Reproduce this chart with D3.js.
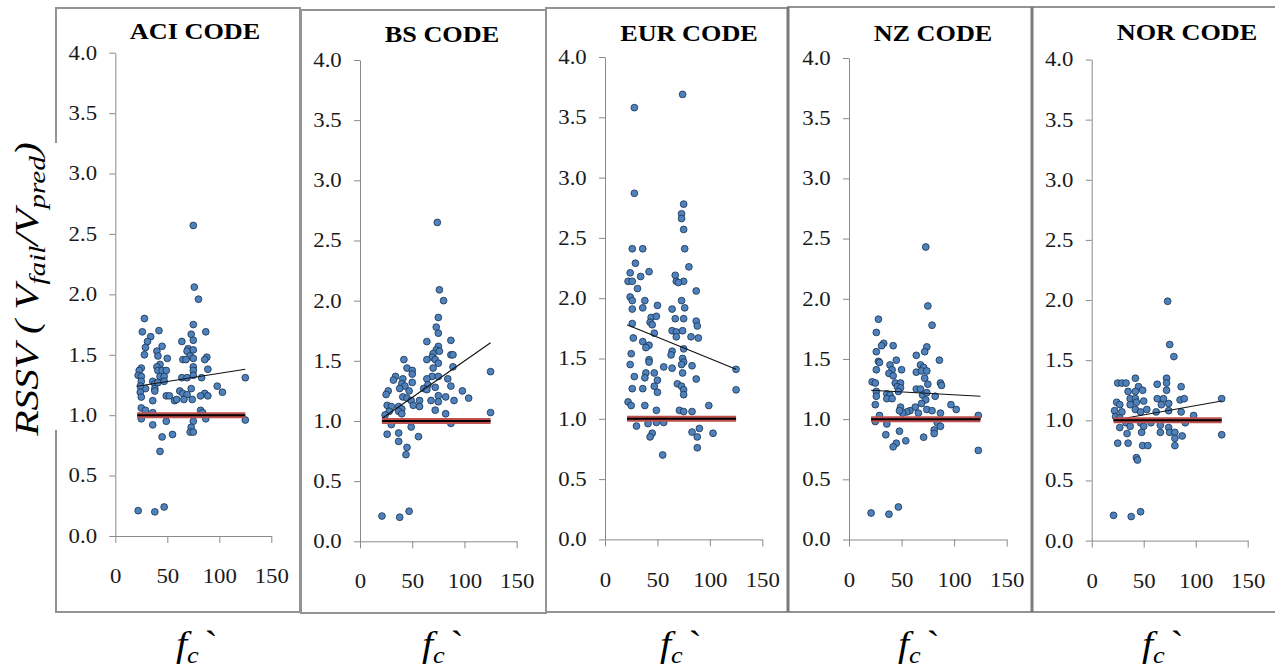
<!DOCTYPE html>
<html>
<head>
<meta charset="utf-8">
<script src="https://cdn.jsdelivr.net/npm/d3@7"></script>
<style>
  body { margin: 0; background: #fff; }
  text { font-family: "Liberation Serif", "Times New Roman", serif; }
</style>
</head>
<body>
<svg id="chart" width="1275" height="668"></svg>
<script>
"use strict";

// panel titles
const codes = ["ACI CODE", "BS CODE", "EUR CODE", "NZ CODE", "NOR CODE"];
const fcTicks = [0, 50, 100, 150];
const rssvTicks = [0, 0.5, 1.0, 1.5, 2.0, 2.5, 3.0, 3.5, 4.0];

// [fc', RSSV]
const aciPoints = [
  [75, 2.57], [76, 2.06], [80, 1.96], [28, 1.80], [75, 1.75], [26, 1.69], [42, 1.70], [87, 1.69],
  [73, 1.67], [34, 1.65], [31, 1.61], [75, 1.62], [64, 1.61], [45, 1.57], [29, 1.56], [70, 1.55],
  [40, 1.53], [69, 1.53], [75, 1.54], [28, 1.50], [41, 1.49], [72, 1.49], [50, 1.47], [65, 1.46],
  [68, 1.46], [75, 1.47], [88, 1.48], [86, 1.46], [25, 1.39], [43, 1.42], [40, 1.40], [75, 1.40],
  [23, 1.37], [41, 1.37], [45, 1.37], [49, 1.37], [75, 1.37], [89, 1.38], [22, 1.33], [25, 1.32],
  [43, 1.32], [47, 1.32], [75, 1.33], [64, 1.31], [69, 1.31], [83, 1.31], [125, 1.31], [25, 1.28],
  [36, 1.28], [38, 1.26], [41, 1.27], [47, 1.28], [38, 1.22], [29, 1.22], [24, 1.24], [24, 1.19],
  [25, 1.15], [38, 1.20], [62, 1.20], [73, 1.22], [65, 1.18], [98, 1.24], [86, 1.18], [82, 1.16],
  [89, 1.16], [103, 1.19], [69, 1.17], [49, 1.16], [52, 1.16], [57, 1.12], [59, 1.13], [66, 1.13],
  [74, 1.13], [36, 1.12], [25, 1.06], [29, 1.04], [36, 1.02], [82, 1.04], [84, 1.02], [25, 0.97],
  [49, 0.95], [36, 0.92], [75, 0.95], [73, 0.90], [72, 0.86], [75, 0.86], [87, 0.97], [125, 0.96],
  [45, 0.82], [55, 0.84], [43, 0.70], [22, 0.21], [38, 0.20], [47, 0.24]
];
const bsPoints = [
  [74, 2.65], [76, 2.09], [80, 2.00], [75, 1.86], [73, 1.78], [75, 1.73], [87, 1.67], [64, 1.66],
  [75, 1.62], [73, 1.59], [70, 1.56], [76, 1.58], [69, 1.53], [87, 1.55], [89, 1.55], [42, 1.51],
  [64, 1.51], [72, 1.51], [75, 1.48], [45, 1.44], [50, 1.42], [70, 1.44], [89, 1.45], [50, 1.39],
  [34, 1.37], [69, 1.37], [75, 1.37], [84, 1.35], [32, 1.34], [41, 1.35], [64, 1.35], [50, 1.32],
  [40, 1.31], [43, 1.29], [38, 1.27], [65, 1.30], [72, 1.28], [87, 1.29], [61, 1.27], [47, 1.25],
  [64, 1.26], [27, 1.25], [25, 1.22], [98, 1.25], [104, 1.19], [82, 1.20], [90, 1.17], [68, 1.17],
  [75, 1.21], [75, 1.16], [41, 1.20], [45, 1.19], [49, 1.17], [57, 1.17], [26, 1.13], [30, 1.12],
  [37, 1.12], [51, 1.13], [57, 1.12], [40, 1.10], [28, 1.08], [37, 1.08], [72, 1.09], [82, 1.06],
  [24, 1.05], [40, 1.06], [125, 1.41], [125, 1.07], [87, 0.98], [30, 0.97], [49, 0.95], [26, 0.89],
  [37, 0.90], [56, 0.87], [37, 0.83], [45, 0.78], [44, 0.72], [21, 0.21], [38, 0.20], [47, 0.25]
];
const eurPoints = [
  [74, 3.69], [28, 3.58], [28, 2.87], [75, 2.78], [73, 2.70], [73, 2.66], [75, 2.57], [26, 2.41],
  [36, 2.41], [76, 2.41], [29, 2.29], [24, 2.21], [42, 2.22], [80, 2.26], [22, 2.14], [26, 2.14],
  [34, 2.18], [67, 2.19], [68, 2.14], [75, 2.14], [70, 2.13], [31, 2.08], [87, 2.06], [24, 2.01],
  [26, 1.98], [38, 1.98], [73, 1.98], [26, 1.91], [36, 1.92], [50, 1.94], [64, 1.91], [76, 1.92],
  [44, 1.84], [49, 1.85], [43, 1.80], [45, 1.78], [67, 1.83], [75, 1.83], [87, 1.81], [88, 1.77],
  [26, 1.79], [47, 1.71], [27, 1.67], [36, 1.64], [64, 1.73], [68, 1.72], [74, 1.73], [82, 1.68],
  [89, 1.67], [68, 1.68], [42, 1.61], [39, 1.59], [75, 1.58], [64, 1.56], [63, 1.53], [25, 1.54],
  [24, 1.45], [42, 1.49], [42, 1.47], [74, 1.50], [75, 1.47], [83, 1.44], [56, 1.43], [64, 1.42],
  [39, 1.38], [47, 1.38], [73, 1.45], [74, 1.38], [28, 1.35], [38, 1.34], [50, 1.32], [87, 1.33],
  [69, 1.29], [73, 1.27], [26, 1.25], [36, 1.25], [47, 1.27], [50, 1.22], [75, 1.24], [75, 1.20],
  [22, 1.14], [25, 1.11], [38, 1.11], [99, 1.11], [49, 1.07], [71, 1.07], [75, 1.06], [83, 1.06],
  [30, 0.94], [41, 0.96], [49, 0.97], [56, 0.97], [45, 0.88], [43, 0.85], [83, 0.89], [90, 0.92],
  [88, 0.85], [103, 0.88], [88, 0.76], [55, 0.70], [125, 1.41], [125, 1.24]
];
const nzPoints = [
  [73, 2.43], [75, 1.94], [79, 1.78], [28, 1.83], [26, 1.72], [33, 1.63], [31, 1.61], [42, 1.61],
  [74, 1.60], [26, 1.56], [72, 1.56], [64, 1.53], [86, 1.49], [45, 1.49], [28, 1.48], [29, 1.47],
  [68, 1.45], [71, 1.43], [39, 1.45], [26, 1.41], [41, 1.41], [50, 1.41], [64, 1.39], [69, 1.40],
  [74, 1.40], [38, 1.38], [42, 1.36], [72, 1.34], [75, 1.29], [87, 1.30], [88, 1.28], [22, 1.31],
  [25, 1.30], [44, 1.30], [49, 1.30], [46, 1.27], [49, 1.26], [64, 1.25], [68, 1.25], [26, 1.23],
  [36, 1.21], [39, 1.20], [47, 1.23], [70, 1.20], [74, 1.22], [26, 1.19], [82, 1.19], [25, 1.12],
  [36, 1.17], [41, 1.17], [73, 1.16], [69, 1.13], [97, 1.12], [102, 1.08], [63, 1.10], [58, 1.07],
  [55, 1.06], [49, 1.10], [66, 1.05], [51, 1.05], [48, 1.07], [74, 1.08], [79, 1.07], [29, 1.03],
  [87, 1.05], [123, 1.03], [25, 0.98], [36, 0.96], [84, 0.97], [87, 0.94], [81, 0.91], [81, 0.88],
  [35, 0.87], [48, 0.90], [54, 0.82], [71, 0.85], [45, 0.80], [42, 0.77], [123, 0.74], [21, 0.22],
  [38, 0.21], [47, 0.27]
];
const norPoints = [
  [73, 1.99], [75, 1.63], [79, 1.53], [42, 1.35], [25, 1.31], [29, 1.31], [33, 1.31], [63, 1.30],
  [72, 1.35], [72, 1.31], [86, 1.28], [45, 1.28], [35, 1.24], [42, 1.24], [49, 1.25], [72, 1.25],
  [37, 1.18], [42, 1.18], [50, 1.16], [63, 1.18], [69, 1.18], [85, 1.17], [89, 1.18], [125, 1.18],
  [24, 1.15], [27, 1.13], [37, 1.13], [43, 1.15], [67, 1.13], [74, 1.14], [22, 1.08], [29, 1.07],
  [42, 1.09], [47, 1.07], [53, 1.09], [62, 1.07], [74, 1.08], [86, 1.07], [98, 1.04], [23, 1.03],
  [27, 1.02], [33, 0.98], [47, 0.98], [57, 0.98], [66, 0.96], [90, 0.98], [27, 0.94], [37, 0.95],
  [74, 0.94], [50, 0.95], [66, 0.90], [75, 0.90], [80, 0.90], [87, 0.87], [125, 0.88], [34, 0.89],
  [48, 0.90], [25, 0.81], [35, 0.81], [49, 0.79], [54, 0.79], [80, 0.85], [80, 0.79], [43, 0.69],
  [44, 0.67], [21, 0.21], [38, 0.20], [47, 0.24]
];

// linear trend line ends per panel, [fc', RSSV]
const aciTrend = [[21, 1.24], [125, 1.38]];
const bsTrend = [[21, 1.02], [125, 1.65]];
const eurTrend = [[21, 1.78], [125, 1.41]];
const nzTrend = [[21, 1.24], [125, 1.19]];
const norTrend = [[21, 1.00], [125, 1.16]];
const unityLine = [[21, 1.0], [125, 1.0]];

const allPoints = [aciPoints, bsPoints, eurPoints, nzPoints, norPoints];
const allTrends = [aciTrend, bsTrend, eurTrend, nzTrend, norTrend];

// where each panel sits on the page
const layout = [
  { box: [56, 8, 300, 612], x: [115.3, 271.3], y: [536, 52.7], title: [195, 39], xlab: 176, bw: 2 },
  { box: [301, 10, 546, 613], x: [360, 516.7], y: [541.3, 60], title: [442, 42], xlab: 422, bw: 2 },
  { box: [546, 8, 788, 612], x: [605, 762.3], y: [539.4, 57], title: [689, 41], xlab: 660, bw: 2 },
  { box: [788, 7, 1032, 612], x: [849, 1006.7], y: [539.5, 58], title: [933, 41], xlab: 898, bw: 3 },
  { box: [1032, 7, 1276, 612], x: [1091.7, 1247.7], y: [540.6, 59.5], title: [1187, 40], xlab: 1142, bw: 3 }
];

const svg = d3.select("#chart");
const stretch = 1.14; // the source picture is a bit wider than tall

function drawPanel(i) {
  const L = layout[i];
  const g = svg.append("g");

  g.append("rect")
    .attr("x", L.box[0]).attr("y", L.box[1])
    .attr("width", L.box[2] - L.box[0]).attr("height", L.box[3] - L.box[1])
    .attr("fill", "none").attr("stroke", "#939393").attr("stroke-width", 2);
  if (L.bw > 2) {
    g.append("line")
      .attr("x1", L.box[0]).attr("x2", L.box[0])
      .attr("y1", L.box[1]).attr("y2", L.box[3])
      .attr("stroke", "#7a7a7a").attr("stroke-width", L.bw);
  }

  const x = d3.scaleLinear().domain([0, 150]).range(L.x);
  const y = d3.scaleLinear().domain([0, 4]).range(L.y);

  const yAxis = d3.axisLeft(y).tickValues(rssvTicks).tickFormat(d3.format(".1f"))
    .tickSize(6).tickSizeOuter(0).tickPadding(10);
  const xAxis = d3.axisBottom(x).tickValues(fcTicks).tickFormat(d3.format("d"))
    .tickSize(7).tickSizeOuter(0).tickPadding(26);

  const ya = g.append("g").attr("transform", `translate(${L.x[0]},0)`).call(yAxis);
  const xa = g.append("g").attr("transform", `translate(0,${L.y[0]})`).call(xAxis);
  [ya, xa].forEach(a => {
    a.select(".domain").attr("stroke", "#8a8a8a");
    a.selectAll(".tick line").attr("stroke", "#8a8a8a");
    a.selectAll("text")
      .attr("fill", "#1a1a1a")
      .style("font-size", "20px")
      .style("font-family", "Liberation Serif")
      .attr("transform", `scale(${stretch},1)`);
  });

  // data points
  g.append("g").selectAll("circle")
    .data(allPoints[i])
    .join("circle")
    .attr("cx", d => x(d[0]))
    .attr("cy", d => y(d[1]))
    .attr("r", 3.4)
    .attr("fill", "#4f81bd")
    .attr("stroke", "#17324f")
    .attr("stroke-width", 0.8);

  const line = d3.line().x(d => x(d[0])).y(d => y(d[1]));

  // trend line
  g.append("path").datum(allTrends[i])
    .attr("d", line).attr("fill", "none")
    .attr("stroke", "#111").attr("stroke-width", 1.1);

  // RSSV = 1 reference: red band with black core
  g.append("path").datum(unityLine)
    .attr("d", line).attr("fill", "none")
    .attr("stroke", "#c0504d").attr("stroke-width", 6);
  g.append("path").datum(unityLine)
    .attr("d", line).attr("fill", "none")
    .attr("stroke", "#000").attr("stroke-width", 2);

  // title
  g.append("text")
    .attr("transform", `translate(${L.title[0]},${L.title[1]}) scale(${stretch},1)`)
    .attr("text-anchor", "middle")
    .style("font-size", "23px").style("font-weight", "bold")
    .text(codes[i]);

  // x label f_c `
  const xl = g.append("text")
    .attr("transform", `translate(${L.xlab},656) scale(${stretch},1)`)
    .style("font-size", "35px").style("font-style", "italic");
  xl.append("tspan").text("f");
  xl.append("tspan").attr("dy", 7).style("font-size", "23px").text("c");
  xl.append("tspan").attr("dy", -7).attr("dx", 5).style("font-style", "normal").text("`");
}

codes.forEach((c, i) => drawPanel(i));

// shared y label, it sits over the left frame line
svg.append("rect").attr("x", 50).attr("y", 143).attr("width", 14).attr("height", 287).attr("fill", "#fff");
const yl = svg.append("text")
  .attr("transform", "translate(38,289) rotate(-90) scale(1.22,1)")
  .attr("text-anchor", "middle")
  .style("font-size", "34px").style("font-style", "italic");
yl.append("tspan").text("RSSV ( V");
yl.append("tspan").attr("dy", 7).style("font-size", "24px").text("fail");
yl.append("tspan").attr("dy", -7).text("/V");
yl.append("tspan").attr("dy", 7).style("font-size", "24px").text("pred");
yl.append("tspan").attr("dy", -7).text(")");
</script>
</body>
</html>
